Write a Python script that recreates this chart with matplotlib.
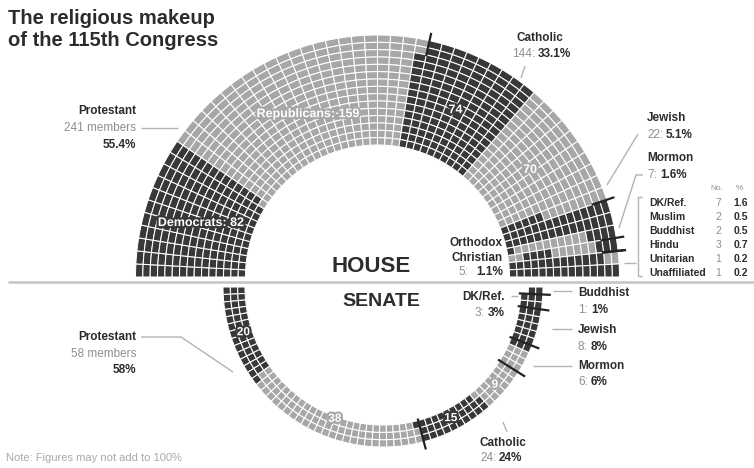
import numpy as np
import matplotlib
matplotlib.use("Agg")
import matplotlib.pyplot as plt
import matplotlib.patheffects as pe
from matplotlib.patches import Wedge

# ---------------- data ----------------
house_groups = ["Protestant", "Catholic", "Jewish", "Mormon", "Orthodox Christian",
                "DK/Ref.", "Muslim", "Buddhist", "Hindu", "Unitarian", "Unaffiliated"]
house_dem = [82, 74, 20, 2, 2, 5, 2, 2, 3, 1, 1]
house_rep = [159, 70, 2, 5, 3, 2, 0, 0, 0, 0, 0]
house_dem_first = [True, True, False, False, False, False, True, True, True, True, True]

senate_groups = ["Protestant", "Catholic", "Mormon", "Jewish", "DK/Ref.", "Buddhist"]
senate_dem = [20, 15, 1, 8, 3, 1]
senate_rep = [38, 9, 5, 0, 0, 0]
senate_dem_first = [True, True, False, True, True, True]

# ---------------- style ----------------
DARK = '#383838'
LIGHT = '#a7a7a7'
TXT = '#2c2c2c'
GRAY = '#8e8e8e'
LINEC = '#b3b3b3'
plt.rcParams['font.family'] = ['Liberation Sans', 'DejaVu Sans']

W, H = 754, 468
fig = plt.figure(figsize=(W / 100, H / 100), dpi=100)
ax = fig.add_axes([0, 0, 1, 1])
ax.set_xlim(0, W)
ax.set_ylim(0, H)
ax.axis('off')


def Y(y):
    return H - y


def txt(x, y, s, size=8.5, bold=False, color=TXT, ha='left', va='center'):
    ax.text(x, Y(y), s, fontsize=size, fontweight='bold' if bold else 'normal',
            color=color, ha=ha, va=va, zorder=6)


def line(pts, color=LINEC, lw=1.0, z=5):
    ax.plot([p[0] for p in pts], [Y(p[1]) for p in pts], color=color, lw=lw,
            solid_capstyle='butt', zorder=z)


def arc_grid(dem, rep, dem_first, cx, cy, r_in, r_out, n_rows, cpm, upper):
    seq = []
    for i in range(len(dem)):
        parts = [(True, dem[i]), (False, rep[i])]
        if not dem_first[i]:
            parts = parts[::-1]
        for is_dem, c in parts:
            seq += [(i, is_dem)] * (c * cpm)
    n_cols = int(np.ceil(len(seq) / n_rows))
    dth = 180.0 / n_cols
    dr = (r_out - r_in) / n_rows
    cells = []
    for k, (g, d) in enumerate(seq):
        col, rr = divmod(k, n_rows)
        ring = n_rows - 1 - rr
        if upper:
            t2 = 180 - col * dth
            t1 = t2 - dth
        else:
            t1 = 180 + col * dth
            t2 = t1 + dth
        ro = r_in + (ring + 1) * dr
        ax.add_patch(Wedge((cx, Y(cy)), ro, t1, t2, width=dr,
                           facecolor=DARK if d else LIGHT, edgecolor='white',
                           linewidth=0.75, zorder=2))
        rm = ro - dr / 2
        tm = np.radians((t1 + t2) / 2)
        cells.append((g, d, cx + rm * np.cos(tm), Y(cy) + rm * np.sin(tm)))
    starts = {}
    for k, (g, d) in enumerate(seq):
        starts.setdefault(g, k)
    return cells, starts, n_rows, dth


def seg_center(cells, g, d):
    pts = np.array([(c[2], c[3]) for c in cells if c[0] == g and c[1] == d])
    return pts.mean(axis=0)


def seg_label(cells, g, d, s, size=9):
    x, y = seg_center(cells, g, d)
    t = ax.text(x, y, s, color='white', fontsize=size, fontweight='bold',
                ha='center', va='center', zorder=6)
    t.set_path_effects([pe.withStroke(linewidth=3, foreground=DARK if d else LIGHT)])


def tick(cx, cy, ang, r0, r1, lw=1.6):
    a = np.radians(ang)
    ax.plot([cx + r0 * np.cos(a), cx + r1 * np.cos(a)],
            [Y(cy) + r0 * np.sin(a), Y(cy) + r1 * np.sin(a)],
            color='#222222', lw=lw, zorder=4, solid_capstyle='butt')


# ---------------- HOUSE ----------------
hcx, hcy, hri, hro = 377.5, 277, 132, 242
hcells, hstarts, hrows, hdth = arc_grid(house_dem, house_rep, house_dem_first,
                                        hcx, hcy, hri, hro, 15, 2, True)
for g in range(1, 6):
    c = int(np.ceil(hstarts[g] / hrows))
    tick(hcx, hcy, 180 - c * hdth, hro - 16, hro + 8)

house_total = sum(house_dem) + sum(house_rep)
hn = [d + r for d, r in zip(house_dem, house_rep)]
hp = [n / house_total * 100 for n in hn]

seg_label(hcells, 0, True, f"Democrats: {house_dem[0]}")
seg_label(hcells, 0, False, f"Republicans: {house_rep[0]}")
seg_label(hcells, 1, True, f"{house_dem[1]}")
seg_label(hcells, 1, False, f"{house_rep[1]}")

# Protestant
txt(136, 111, house_groups[0], bold=True, ha='right')
txt(136, 128, f"{hn[0]} members", color=GRAY, ha='right')
txt(136, 145, f"{hp[0]:.1f}%", bold=True, ha='right')
line([(141, 128), (178, 128)])
# Catholic
txt(540, 38, house_groups[1], bold=True, ha='center')
txt(535, 54, f"{hn[1]}:", color=GRAY, ha='right')
txt(538, 54, f"{hp[1]:.1f}%", bold=True, ha='left')
line([(525, 66), (521, 78)])
# Jewish
txt(647, 118, house_groups[2], bold=True)
txt(647, 135, f"{hn[2]}:", color=GRAY)
txt(666, 135, f"{hp[2]:.1f}%", bold=True)
line([(638, 134), (607, 185)])
# Mormon
txt(647, 158, house_groups[3], bold=True)
txt(647, 175, f"{hn[3]}:", color=GRAY)
txt(660, 175, f"{hp[3]:.1f}%", bold=True)
line([(643, 175), (636, 175), (619, 228)])
# Orthodox
txt(503, 243, "Orthodox", bold=True, ha='right')
txt(503, 258, "Christian", bold=True, ha='right')
txt(468, 272, f"{hn[4]}:", color=GRAY, ha='right')
txt(503, 272, f"{hp[4]:.1f}%", bold=True, ha='right')
line([(508, 257), (516, 257)])
# table of others
txt(717, 189, "No.", size=6, color=GRAY, ha='center')
txt(739, 189, "%", size=6, color=GRAY, ha='center')
for j, g in enumerate(range(5, len(house_groups))):
    yy = 203 + j * 14
    txt(649, yy, house_groups[g], size=7.5, bold=True)
    txt(721, yy, f"{hn[g]}", size=7.5, color=GRAY, ha='right')
    txt(748, yy, f"{hp[g]:.1f}", size=7.5, bold=True, ha='right')
line([(642, 197), (638, 197), (638, 276), (642, 276)])
line([(624, 263), (636, 263)])

txt(371, 266, "HOUSE", size=16, bold=True, ha='center')
line([(8, 282), (754, 282)], color='#c4c4c4', lw=1.8, z=1)

# ---------------- SENATE ----------------
scx, scy, sri, sro = 383, 287, 138, 160
scells, sstarts, srows, sdth = arc_grid(senate_dem, senate_rep, senate_dem_first,
                                        scx, scy, sri, sro, 3, 2, False)
for g in range(1, len(senate_groups)):
    c = int(np.ceil(sstarts[g] / srows))
    tick(scx, scy, 180 + c * sdth, sri - 2, sro + 8)

senate_total = sum(senate_dem) + sum(senate_rep)
sn = [d + r for d, r in zip(senate_dem, senate_rep)]
sp = [n / senate_total * 100 for n in sn]

seg_label(scells, 0, True, f"{senate_dem[0]}", 8.5)
seg_label(scells, 0, False, f"{senate_rep[0]}", 8.5)
seg_label(scells, 1, True, f"{senate_dem[1]}", 8.5)
seg_label(scells, 1, False, f"{senate_rep[1]}", 8.5)

txt(381, 302, "SENATE", size=14, bold=True, ha='center')

# Protestant
txt(136, 337, senate_groups[0], bold=True, ha='right')
txt(136, 354, f"{sn[0]} members", color=GRAY, ha='right')
txt(136, 370, f"{sp[0]:.0f}%", bold=True, ha='right')
line([(141, 337), (181, 337), (233, 372)])
# Catholic
txt(480, 443, senate_groups[1], bold=True)
txt(480, 458, f"{sn[1]}:", color=GRAY)
txt(499, 458, f"{sp[1]:.0f}%", bold=True)
line([(503, 422), (507, 432)])
# Mormon
txt(578, 366, senate_groups[2], bold=True)
txt(578, 382, f"{sn[2]}:", color=GRAY)
txt(591, 382, f"{sp[2]:.0f}%", bold=True)
line([(533, 366), (572, 366)])
# Jewish
txt(578, 330, senate_groups[3], bold=True)
txt(578, 347, f"{sn[3]}:", color=GRAY)
txt(591, 347, f"{sp[3]:.0f}%", bold=True)
line([(552, 329), (572, 329)])
# DK/Ref
txt(505, 297, senate_groups[4], bold=True, ha='right')
txt(484, 313, f"{sn[4]}:", color=GRAY, ha='right')
txt(505, 313, f"{sp[4]:.0f}%", bold=True, ha='right')
line([(511, 296), (518, 296)])
# Buddhist
txt(578, 293, senate_groups[5], bold=True)
txt(578, 310, f"{sn[5]}:", color=GRAY)
txt(591, 310, f"{sp[5]:.0f}%", bold=True)
line([(553, 291), (572, 291)])

# ---------------- title / note ----------------
ax.text(8, Y(24), "The religious makeup", fontsize=14.5, fontweight='bold', color=TXT,
        ha='left', va='baseline')
ax.text(8, Y(46), "of the 115th Congress", fontsize=14.5, fontweight='bold', color=TXT,
        ha='left', va='baseline')
txt(6, 458, "Note: Figures may not add to 100%", size=8, color='#a8a8a8')

fig.savefig("out.png", dpi=100)
